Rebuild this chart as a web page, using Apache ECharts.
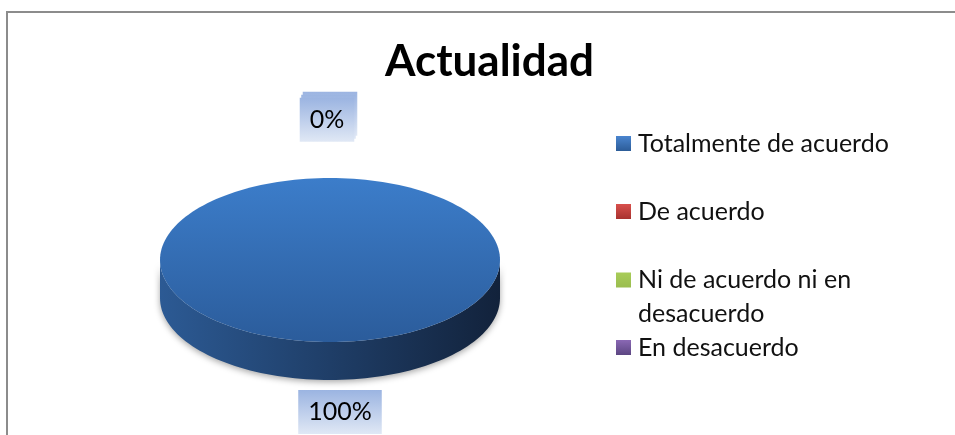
<!DOCTYPE html>
<html lang="es">
<head>
	<meta charset="UTF-8" />
	<title>Actualidad</title>
	<script src="https://cdn.jsdelivr.net/npm/echarts@6/dist/echarts.min.js"></script>
	<style>
		html, body { margin: 0; padding: 0; background: #fff; }
		#main { width: 955px; height: 435px; }
	</style>
</head>
<body>
<div id="main"></div>
<script>
	// datos
	var categories = ['Totalmente de acuerdo', 'De acuerdo', 'Ni de acuerdo ni en desacuerdo', 'En desacuerdo'];
	var values = [100, 0, 0, 0];

	// colores estilo Excel (cara superior, lateral, leyenda)
	var topColors  = [['#3c7dca', '#2b5c9b'], ['#d05450', '#a33c39'], ['#a6c760', '#7f9c45'], ['#8a6db0', '#654f86']];
	var sideColors = [['#2c5a94', '#12223b'], ['#8f3330', '#4a1816'], ['#6c8a36', '#37471b'], ['#5c4880', '#2e2442']];
	var legendColors = [['#4a85cf', '#2c5c98'], ['#d8504c', '#a8322f'], ['#a8cc58', '#7c9c3a'], ['#8a68b4', '#5c4682']];

	var FONT = 'Lato, "Liberation Sans", sans-serif';
	var PIE = { cx: 330, cy: 260, rx: 170, ry: 82, depth: 38 };

	var total = values.reduce(function (a, b) { return a + b; }, 0);
	var startAngles = [];
	var acc = 0;
	values.forEach(function (v) { startAngles.push(acc / total * 360); acc += v; });

	function grad(c, horizontal) {
		return new echarts.graphic.LinearGradient(0, 0, horizontal ? 1 : 0, horizontal ? 0 : 1, [
			{ offset: 0, color: c[0] }, { offset: 1, color: c[1] }
		]);
	}

	// punto sobre la elipse, angulo desde las 12 en sentido horario
	function pt(a, dy) {
		var r = a * Math.PI / 180;
		return [PIE.cx + PIE.rx * Math.sin(r), PIE.cy - PIE.ry * Math.cos(r) + (dy || 0)];
	}
	function arc(a0, a1, dy) {
		var pts = [];
		var n = Math.max(2, Math.ceil((a1 - a0) / 2));
		for (var k = 0; k <= n; k++) pts.push(pt(a0 + (a1 - a0) * k / n, dy));
		return pts;
	}

	// cuantas etiquetas caen en el mismo sitio antes que esta
	function sameSpot(i) {
		var n = 0;
		var mi = startAngles[i] + values[i] / total * 180;
		for (var j = 0; j < i; j++) {
			var mj = startAngles[j] + values[j] / total * 180;
			if (Math.abs(mj - mi) < 1) n++;
		}
		return n;
	}

	function makeRender(i) {
		return function (params, api) {
			var v = api.value(0);
			var a0 = startAngles[i];
			var a1 = a0 + v / total * 360;
			var children = [];

			// lateral (solo mitad frontal)
			var s = Math.max(a0, 90), e = Math.min(a1, 270);
			if (e > s) {
				children.push({
					type: 'polygon',
					shape: { points: arc(s, e, 0).concat(arc(s, e, PIE.depth).reverse()) },
					style: {
						fill: grad(sideColors[i], true),
						shadowBlur: 6, shadowColor: 'rgba(0,0,0,0.35)', shadowOffsetY: 2
					}
				});
			}
			// cara superior
			if (a1 - a0 > 0) {
				var pts = (a1 - a0 >= 359.999) ? arc(0, 360) : [[PIE.cx, PIE.cy]].concat(arc(a0, a1));
				children.push({
					type: 'polygon',
					shape: { points: pts },
					style: { fill: grad(topColors[i], false) }
				});
			}
			// etiqueta de porcentaje
			var mid = (a0 + a1) / 2 * Math.PI / 180;
			var gap = 32;
			var front = Math.cos(mid) < 0;
			var lx = PIE.cx + Math.sin(mid) * (PIE.rx + gap) + (front ? 10 : 0);
			var ly = PIE.cy - Math.cos(mid) * (PIE.ry + gap) + (front ? PIE.depth : -0.85 * PIE.depth);
			var k = sameSpot(i);
			children.push({
				type: 'text',
				z2: 10 + k,
				style: {
					text: Math.round(v / total * 100) + '%',
					x: lx - 1.5 * k, y: ly + 3 * k,
					align: 'center', verticalAlign: 'middle',
					fontSize: 25, fontFamily: FONT, fill: '#000',
					lineHeight: 28,
					padding: [8, 10, 8, 10],
					backgroundColor: grad(['#9bb4e1', '#e0e8f5'], false)
				}
			});
			return { type: 'group', children: children };
		};
	}

	var series = categories.map(function (name, i) {
		return {
			type: 'custom',
			name: name,
			coordinateSystem: 'none',
			silent: true,
			itemStyle: { color: grad(legendColors[i], false) },
			data: [[values[i]]],
			renderItem: makeRender(i)
		};
	});

	var legendTops = [126.5, 194.5, 262.5, 330.5];
	var legends = categories.map(function (name, i) {
		var twoLine = name === 'Ni de acuerdo ni en desacuerdo';
		return {
			data: [name],
			orient: 'vertical',
			left: 616,
			top: legendTops[i],
			padding: 0,
			selectedMode: false,
			itemWidth: 15,
			itemHeight: twoLine ? 48 : 15,
			// cuadro arriba, alineado con la primera linea
			icon: twoLine ? 'path://M0,0h15v15h-15zM0,47.99h15v0.01h-15z' : 'rect',
			itemGap: 0,
			textStyle: {
				fontSize: 25, fontFamily: FONT, color: '#111', lineHeight: 34,
				width: 268, overflow: 'break', padding: [0, 0, 0, 2]
			}
		};
	});

	var mychart = echarts.init(document.getElementById('main'), null, { renderer: 'canvas' });
	mychart.setOption({
		animation: false,
		backgroundColor: '#fff',
		title: {
			text: 'Actualidad',
			left: 385,
			top: 40,
			padding: 0,
			textStyle: { fontSize: 44, fontWeight: 'bold', fontFamily: FONT, color: '#000' }
		},
		legend: legends,
		graphic: [{
			type: 'rect',
			shape: { x: 7, y: 12, width: 1000, height: 500 },
			style: { fill: 'none', stroke: '#8c8c8c', lineWidth: 2 },
			silent: true,
			z: -1
		}],
		series: series
	});
</script>
</body>
</html>
